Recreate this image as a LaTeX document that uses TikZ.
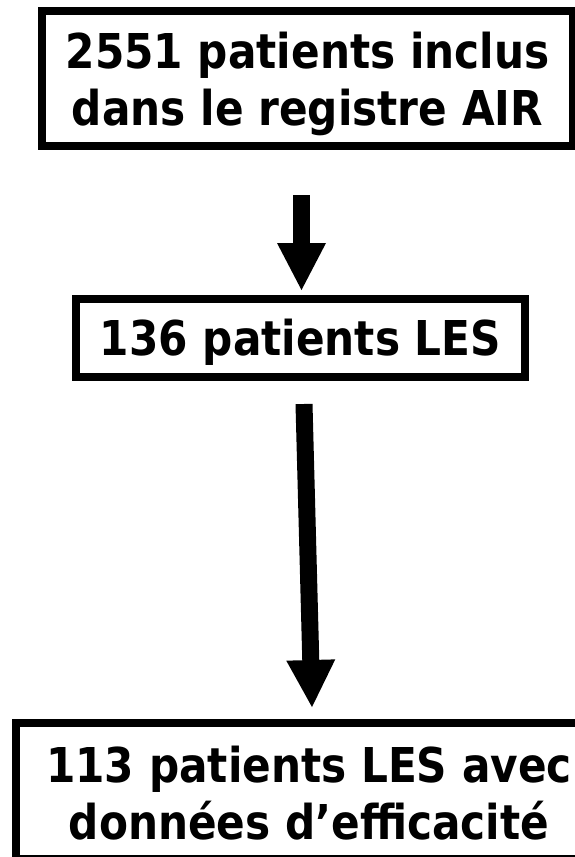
\documentclass[tikz,border=0pt]{standalone}
\usepackage{fontspec}
\usetikzlibrary{arrows.meta,calc}
\newfontfamily\boxfont{DejaVu Sans Bold}[FakeStretch=0.88]
\tikzset{
  flowbox/.style={draw=black, line width=8pt, fill=white, align=center,
    font=\boxfont\fontsize{48pt}{57pt}\selectfont, inner sep=0pt},
  bigarrow/.style={line width=17pt, -{Triangle[length=47pt,width=49pt,line width=0pt]}}
}
\begin{document}
\begin{tikzpicture}[x=1pt,y=-1pt]
\clip (0,0) rectangle (575,857);
\fill[white] (0,0) rectangle (575,857);
\node[flowbox, minimum width=531pt, minimum height=135pt, text height=97pt, text depth=4pt]
  (b1) at (307.5,78.5) {2551 patients inclus\\dans le registre AIR};
\node[flowbox, minimum width=449pt, minimum height=78pt, text height=38pt, text depth=4pt]
  (b2) at (300.5,338) {136 patients LES};
\node[flowbox, minimum width=586pt, minimum height=136pt, text height=100pt, text depth=4pt]
  (b3) at (309,791) {113 patients LES avec\\données d’efficacité};
\draw[bigarrow] ($(b1.south)+(-6,45)$) -- ($(b2.north)+(1,-5)$);
\draw[bigarrow] ($(b2.south)+(3.5,23)$) -- ($(b3.north)+(3,-12)$);
\end{tikzpicture}
\end{document}
